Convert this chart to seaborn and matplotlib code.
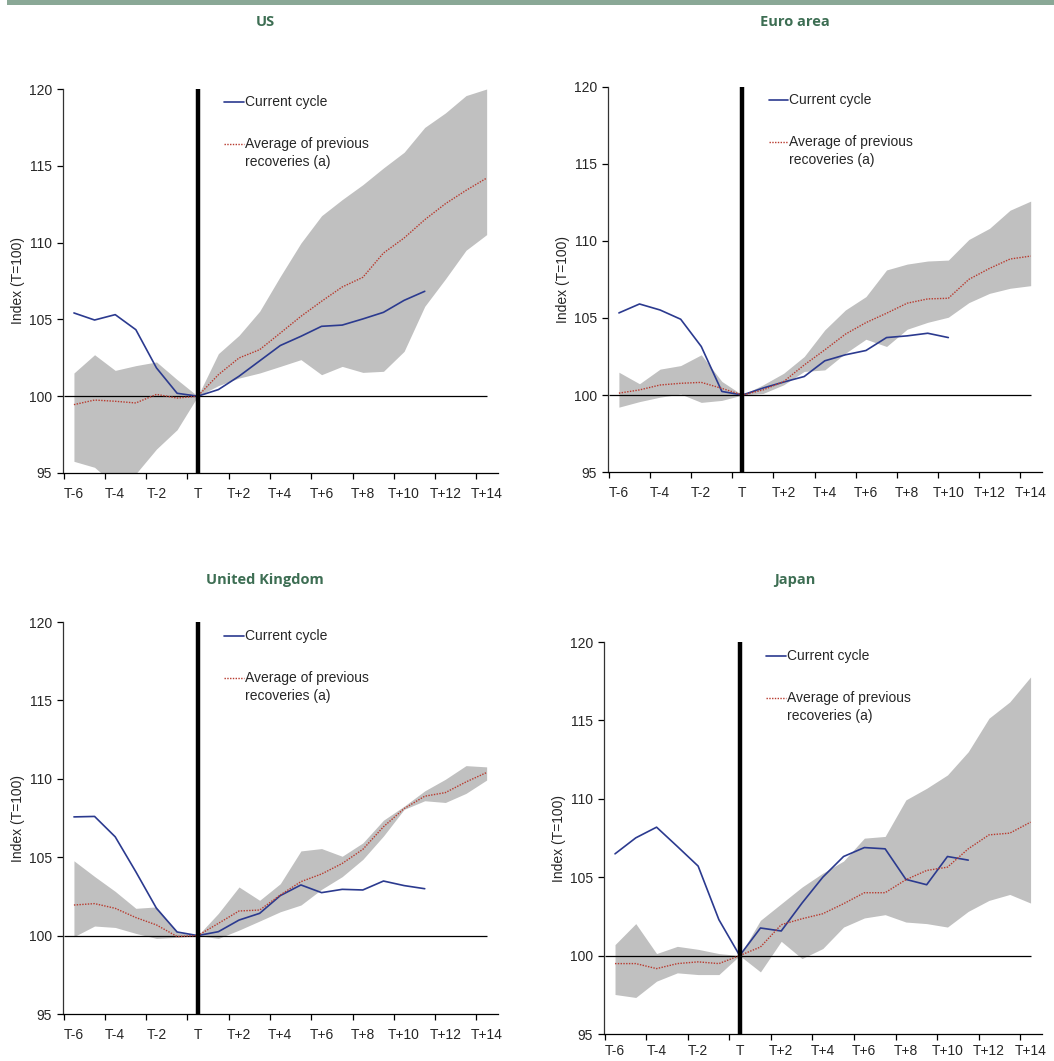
import matplotlib
matplotlib.use("Agg")
import matplotlib.pyplot as plt
from matplotlib.patches import Rectangle
import numpy as np
import pandas as pd
import seaborn as sns

# Quarters relative to the trough quarter T
periods = list(range(-6, 15))
tick_labels = ["T-6", "T-4", "T-2", "T", "T+2", "T+4", "T+6", "T+8", "T+10", "T+12", "T+14"]

# ---- US ----
us_current = [105.42, 104.96, 105.31, 104.33, 101.84, 100.19, 100.0, 100.43, 101.3, 102.3,
              103.3, 103.9, 104.55, 104.63, 105.03, 105.46, 106.24, 106.83]
us_average = [99.45, 99.75, 99.67, 99.56, 100.12, 99.88, 100.0, 101.4, 102.49, 103.03, 104.11,
              105.2, 106.18, 107.11, 107.74, 109.32, 110.3, 111.49, 112.53, 113.4, 114.2]
us_high = [101.51, 102.7, 101.68, 101.99, 102.23, 101.08, 100.0, 102.77, 103.96, 105.53, 107.8,
           109.97, 111.75, 112.8, 113.77, 114.86, 115.88, 117.5, 118.44, 119.57, 120.0]
us_low = [95.76, 95.37, 94.2, 94.95, 96.56, 97.82, 100.0, 100.69, 101.18, 101.51, 101.94,
          102.38, 101.4, 101.94, 101.55, 101.62, 102.92, 105.85, 107.63, 109.5, 110.52]

# ---- Euro area ----
ea_current = [105.33, 105.91, 105.52, 104.92, 103.15, 100.23, 100.0, 100.45, 100.84, 101.2,
              102.22, 102.61, 102.89, 103.73, 103.84, 104.01, 103.73]
ea_average = [100.12, 100.33, 100.65, 100.76, 100.82, 100.43, 100.0, 100.33, 100.87, 101.95,
              102.93, 103.95, 104.7, 105.31, 105.96, 106.24, 106.28, 107.51, 108.22, 108.83, 109.02]
ea_high = [101.48, 100.73, 101.68, 101.91, 102.61, 100.88, 100.0, 100.66, 101.41, 102.5, 104.23,
           105.52, 106.39, 108.12, 108.5, 108.7, 108.76, 110.1, 110.82, 112.0, 112.59]
ea_low = [99.21, 99.57, 99.86, 100.06, 99.52, 99.65, 100.0, 100.1, 100.66, 101.53, 101.63,
          102.71, 103.62, 103.15, 104.27, 104.72, 105.05, 106.0, 106.6, 106.93, 107.1]

# ---- United Kingdom ----
uk_current = [107.57, 107.6, 106.3, 104.07, 101.74, 100.23, 100.0, 100.25, 100.99, 101.42,
              102.55, 103.23, 102.74, 102.95, 102.91, 103.48, 103.19, 102.99]
uk_average = [101.95, 102.04, 101.74, 101.15, 100.68, 99.94, 100.0, 100.78, 101.57, 101.63,
              102.59, 103.44, 103.93, 104.6, 105.5, 106.94, 108.1, 108.89, 109.12, 109.8, 110.4]
uk_high = [104.77, 103.77, 102.82, 101.74, 101.83, 100.2, 100.0, 101.42, 103.1, 102.25, 103.31,
           105.4, 105.55, 105.06, 105.91, 107.36, 108.25, 109.23, 109.97, 110.84, 110.76]
uk_low = [99.93, 100.61, 100.52, 100.14, 99.82, 99.89, 100.0, 99.82, 100.35, 100.93, 101.52,
          101.95, 102.95, 103.76, 104.86, 106.35, 108.05, 108.6, 108.49, 109.07, 109.92]

# ---- Japan ----
jp_current = [106.49, 107.51, 108.19, 106.96, 105.71, 102.29, 100.0, 101.76, 101.57, 103.35,
              105.0, 106.32, 106.89, 106.81, 104.86, 104.52, 106.32, 106.09]
jp_average = [99.49, 99.49, 99.17, 99.49, 99.6, 99.49, 100.0, 100.55, 101.97, 102.35, 102.67,
              103.31, 104.01, 104.01, 104.84, 105.43, 105.64, 106.81, 107.7, 107.81, 108.51]
jp_high = [100.7, 102.04, 100.13, 100.59, 100.4, 100.13, 100.0, 102.25, 103.31, 104.37, 105.26,
           106.03, 107.49, 107.6, 109.93, 110.67, 111.52, 113.0, 115.14, 116.18, 117.77]
jp_low = [97.52, 97.33, 98.37, 98.9, 98.79, 98.79, 100.0, 98.96, 100.91, 99.81, 100.45,
          101.82, 102.4, 102.61, 102.14, 102.04, 101.82, 102.82, 103.52, 103.9, 103.35]

# name, series, axes box in pixels (left, top, right, bottom), title position, tick label pad
panels = [
    ("US", us_current, us_average, us_high, us_low, (63, 89, 498, 473), 265, 22, 10),
    ("Euro area", ea_current, ea_average, ea_high, ea_low, (608, 87, 1042, 472), 795, 22, 10),
    ("United Kingdom", uk_current, uk_average, uk_high, uk_low, (63, 622, 498, 1014), 265, 580, 10),
    ("Japan", jp_current, jp_average, jp_high, jp_low, (604, 642, 1042, 1034), 795, 580, 7.5),
]

sns.set_theme(style="white")
plt.rcParams["font.family"] = ["Liberation Sans", "DejaVu Sans"]
plt.rcParams["font.size"] = 10

W, H = 1054, 1061
fig = plt.figure(figsize=(W / 100, H / 100), dpi=100)
fig.patch.set_facecolor("white")

# thin banner across the top
fig.patches.append(Rectangle((7 / W, 1 - 5 / H), 1 - 7 / W, 5 / H, transform=fig.transFigure,
                             color="#8aa896", lw=0))

BAND = "#c0c0c0"
BLUE = "#2b3a8f"
RED = "#b83a2e"
TITLE = "#3d6e53"

for name, cur, avg, hi, lo, (l, t, r, b), tx, ty, xpad in panels:
    ax = fig.add_axes([l / W, 1 - b / H, (r - l) / W, (b - t) / H])
    df_avg = pd.DataFrame({"period": periods, "value": avg, "high": hi, "low": lo})
    df_cur = pd.DataFrame({"period": periods[:len(cur)], "value": cur})

    ax.fill_between(df_avg["period"], df_avg["low"], df_avg["high"], color=BAND, lw=0, zorder=1)
    ax.hlines(100, -6.5, 14, color="black", lw=0.9, zorder=2)
    sns.lineplot(data=df_cur, x="period", y="value", ax=ax, color=BLUE, lw=1.2, zorder=3)
    sns.lineplot(data=df_avg, x="period", y="value", ax=ax, color=RED, lw=1.0,
                 linestyle=(0, (1, 1)), zorder=4)
    ax.axvline(0, color="black", lw=3.2, zorder=5)

    ax.set_xlim(-6.53, 14.55)
    ax.set_ylim(95, 120)
    ax.set_yticks([95, 100, 105, 110, 115, 120])
    ax.set_xticks(np.arange(-6.5, 14, 2))
    ax.set_xticklabels([])
    ax.set_xticks(np.arange(-6, 15, 2), minor=True)
    ax.set_xticklabels(tick_labels, minor=True)
    ax.tick_params(axis="x", which="major", direction="out", length=4, width=0.9,
                   color="black", bottom=True)
    ax.tick_params(axis="x", which="minor", length=0, pad=xpad, labelsize=10, bottom=True)
    ax.tick_params(axis="y", direction="out", length=4, width=0.9, color="black",
                   left=True, labelsize=10, pad=4)
    ax.set_xlabel("")
    ax.set_ylabel("Index (T=100)", fontsize=10, labelpad=2.5)
    for s in ["top", "right"]:
        ax.spines[s].set_visible(False)
    ax.spines["left"].set_color("#333333")
    ax.spines["left"].set_linewidth(0.9)
    ax.spines["bottom"].set_color("black")
    ax.spines["bottom"].set_linewidth(0.9)
    ax.set_facecolor("white")

    # key
    ax.plot([0.37, 0.415], [0.965, 0.965], transform=ax.transAxes, color=BLUE, lw=1.2,
            clip_on=False)
    ax.text(0.418, 0.965, "Current cycle", transform=ax.transAxes, va="center", ha="left",
            fontsize=10)
    ax.plot([0.37, 0.415], [0.858, 0.858], transform=ax.transAxes, color=RED, lw=1.0,
            linestyle=(0, (1, 1)), clip_on=False)
    ax.text(0.418, 0.858, "Average of previous", transform=ax.transAxes, va="center",
            ha="left", fontsize=10)
    ax.text(0.418, 0.811, "recoveries (a)", transform=ax.transAxes, va="center",
            ha="left", fontsize=10)

    fig.text(tx / W, 1 - ty / H, name, ha="center", va="center", fontsize=10.5,
             fontweight="bold", color=TITLE, family=["Open Sans", "DejaVu Sans"])

fig.savefig("out.png", dpi=100, facecolor="white")
